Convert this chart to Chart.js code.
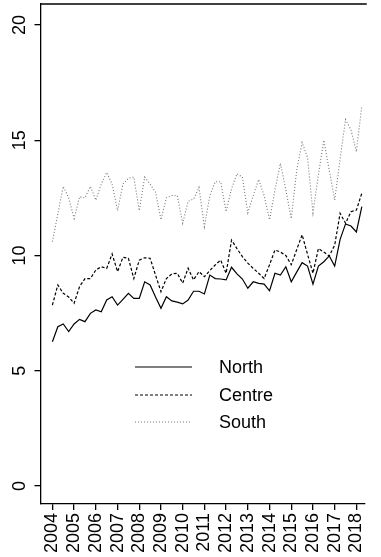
<!DOCTYPE html>
<html>
<head>
<meta charset="utf-8">
<script src="https://cdn.jsdelivr.net/npm/chart.js@4/dist/chart.umd.min.js"></script>
<style>
  html, body { margin: 0; padding: 0; background: #fff; overflow: hidden; }
  canvas { display: block; }
</style>
</head>
<body>
<canvas id="chart" width="381" height="557"></canvas>
<script>
// quarterly series, 2004 Q1 .. 2018 Q2
const startYear = 2004;
const years = [2004, 2005, 2006, 2007, 2008, 2009, 2010, 2011, 2012, 2013, 2014, 2015, 2016, 2017, 2018];
const yTicks = [0, 5, 10, 15, 20];
const seriesNames = ["North", "Centre", "South"];

const north = [
  6.26, 6.91, 7.03, 6.70, 7.03, 7.23, 7.13, 7.49, 7.64, 7.56,
  8.07, 8.21, 7.85, 8.10, 8.36, 8.14, 8.14, 8.86, 8.72, 8.20,
  7.71, 8.21, 8.03, 7.98, 7.90, 8.07, 8.45, 8.45, 8.33, 9.15,
  9.00, 8.98, 8.94, 9.49, 9.20, 8.98, 8.58, 8.86, 8.79, 8.76,
  8.47, 9.23, 9.15, 9.51, 8.86, 9.28, 9.69, 9.54, 8.76, 9.54,
  9.73, 9.98, 9.54, 10.70, 11.37, 11.28, 11.02, 12.12
];
const centre = [
  7.85, 8.72, 8.36, 8.20, 7.93, 8.65, 9.00, 9.00, 9.37, 9.51,
  9.44, 10.07, 9.30, 9.92, 9.88, 9.00, 9.80, 9.90, 9.88, 9.15,
  8.43, 9.00, 9.20, 9.23, 8.80, 9.45, 8.94, 9.30, 9.08, 9.35,
  9.59, 9.80, 9.23, 10.67, 10.30, 9.95, 9.67, 9.44, 9.23, 9.00,
  9.60, 10.24, 10.15, 10.00, 9.60, 10.25, 10.90, 10.05, 9.23, 10.30,
  10.15, 9.98, 10.45, 11.83, 11.40, 11.90, 11.97, 12.70
];
const south = [
  10.60, 11.80, 13.00, 12.50, 11.60, 12.55, 12.50, 13.00, 12.40, 13.10,
  13.60, 13.10, 11.95, 13.10, 13.35, 13.40, 11.95, 13.40, 13.10, 12.75,
  11.55, 12.50, 12.60, 12.60, 11.40, 12.35, 12.45, 12.95, 11.25, 12.60,
  13.20, 13.20, 11.90, 12.90, 13.55, 13.40, 11.85, 12.60, 13.30, 12.60,
  11.55, 12.85, 14.00, 12.85, 11.60, 13.70, 14.90, 14.25, 11.85, 13.50,
  15.00, 13.70, 12.40, 14.20, 15.90, 15.45, 14.50, 16.50
];

const quarters = north.map((v, i) => startYear + i / 4);
const toPoints = arr => arr.map((v, i) => ({ x: quarters[i], y: v }));

const FONT = "'Liberation Sans', Arial, Helvetica, sans-serif";

// frame top line, rotated y labels and the legend (R style)
const rStyle = {
  id: "rStyle",
  afterDraw(chart) {
    const ctx = chart.ctx;
    const area = chart.chartArea;
    const yScale = chart.scales.y;
    ctx.save();
    ctx.strokeStyle = "#000";
    ctx.lineWidth = 1.3;
    ctx.beginPath();
    ctx.moveTo(area.left, area.top);
    ctx.lineTo(area.right + 2, area.top);
    ctx.stroke();

    ctx.fillStyle = "#000";
    ctx.font = "18px " + FONT;
    yTicks.forEach(v => {
      const py = yScale.getPixelForValue(v);
      ctx.save();
      ctx.translate(25, py);
      ctx.rotate(-Math.PI / 2);
      ctx.textAlign = "center";
      ctx.textBaseline = "alphabetic";
      ctx.fillText(String(v), 0, 0);
      ctx.restore();
    });

    // legend
    const rows = [367, 395, 422];
    chart.data.datasets.forEach((ds, i) => {
      ctx.save();
      ctx.strokeStyle = ds.borderColor;
      ctx.lineWidth = ds.borderWidth;
      ctx.setLineDash(ds.borderDash || []);
      ctx.beginPath();
      ctx.moveTo(135, rows[i]);
      ctx.lineTo(192, rows[i]);
      ctx.stroke();
      ctx.restore();
      ctx.textAlign = "left";
      ctx.textBaseline = "middle";
      ctx.fillText(ds.label, 219, rows[i] + 1);
    });
    ctx.restore();
  }
};

new Chart(document.getElementById("chart"), {
  type: "line",
  data: {
    datasets: [
      { label: seriesNames[0], data: toPoints(north), borderColor: "#000", borderWidth: 1.2 },
      { label: seriesNames[1], data: toPoints(centre), borderColor: "#000", borderWidth: 1.2, borderDash: [3, 2] },
      { label: seriesNames[2], data: toPoints(south), borderColor: "#777", borderWidth: 1.1, borderDash: [1, 2] }
    ]
  },
  options: {
    responsive: false,
    animation: false,
    devicePixelRatio: 1,
    layout: { padding: { top: 4, right: 0, left: 0, bottom: 0 } },
    elements: { point: { radius: 0 }, line: { tension: 0 } },
    plugins: { legend: { display: false }, tooltip: { enabled: false } },
    scales: {
      x: {
        type: "linear",
        min: 2003.452,
        max: 2018.386,
        afterBuildTicks: scale => { scale.ticks = years.map(v => ({ value: v })); },
        afterFit: scale => { scale.height = 53; },
        ticks: {
          autoSkip: false,
          minRotation: 90,
          maxRotation: 90,
          padding: 3,
          color: "#000",
          font: { family: FONT, size: 18 },
          callback: v => String(v)
        },
        grid: { drawOnChartArea: false, drawTicks: true, tickLength: 6, color: "#000", lineWidth: 1.3 },
        border: { display: true, color: "#000", width: 1.3 }
      },
      y: {
        min: -0.78,
        max: 20.91,
        afterBuildTicks: scale => { scale.ticks = yTicks.map(v => ({ value: v })); },
        afterFit: scale => { scale.width = 40.5; },
        ticks: { display: false },
        grid: { drawOnChartArea: false, drawTicks: true, tickLength: 6, color: "#000", lineWidth: 1.3 },
        border: { display: true, color: "#000", width: 1.3 }
      }
    }
  },
  plugins: [rStyle]
});
</script>
</body>
</html>
